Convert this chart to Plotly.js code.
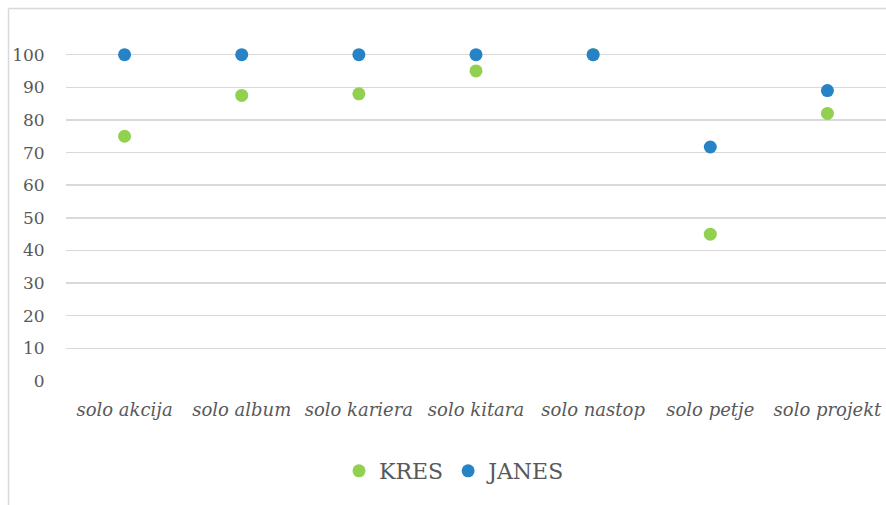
<!DOCTYPE html>
<html><head><meta charset="utf-8">
<script src="https://cdn.plot.ly/plotly-3.0.1.min.js"></script>
<style>html,body{margin:0;padding:0;background:#fff}#chart{width:886px;height:505px}</style>
</head><body><div id="chart"></div>
<script>
const categories = ["solo akcija","solo album","solo kariera","solo kitara","solo nastop","solo petje","solo projekt"];
const kres = [75, 87.5, 88, 95, 100, 45, 82];
const janes = [100, 100, 100, 100, 100, 71.7, 89];
const yTicks = [0,10,20,30,40,50,60,70,80,90,100];

const L = 66, R = 0, T = 22, B = 124, W = 886, H = 505;
const pw = W - L - R, ph = H - T - B;
const px = v => (v - L) / pw;
const py = v => (H - B - v) / ph;

const font = "'DejaVu Serif', 'Liberation Serif', serif";
const traces = [
  {name: "KRES", x: categories, y: kres, type: "scatter", mode: "markers",
   marker: {color: "#92D050", size: 13}, cliponaxis: false},
  {name: "JANES", x: categories, y: janes, type: "scatter", mode: "markers",
   marker: {color: "#2683C6", size: 13}, cliponaxis: false}
];
const frameLine = {color: "#D9D9D9", width: 1.5};
const layout = {
  width: W, height: H,
  margin: {l: L, r: R, t: T, b: B, pad: 0},
  paper_bgcolor: "#fff", plot_bgcolor: "#fff",
  font: {family: font, color: "#595959", size: 16},
  showlegend: true,
  legend: {orientation: "h", x: px(455), xanchor: "center", y: py(471), yanchor: "middle",
           font: {size: 22, family: font, color: "#595959"}, itemwidth: 30, tracegroupgap: 0},
  xaxis: {type: "category", range: [-0.5, 6.5], showgrid: false, zeroline: false,
          showline: false, ticks: "outside", ticklen: 12, tickcolor: "rgba(0,0,0,0)",
          tickfont: {size: 18, family: font, color: "#595959", style: "italic"}, fixedrange: true},
  yaxis: {range: [0, 110], tickvals: yTicks, ticktext: yTicks.map(String),
          showgrid: true, gridcolor: "#D9D9D9", gridwidth: 1.5, zeroline: false,
          showline: false, ticks: "outside", ticklen: 17, tickcolor: "rgba(0,0,0,0)",
          tickfont: {size: 17, family: font, color: "#595959"}, fixedrange: true},
  shapes: [
    {type: "line", xref: "paper", yref: "paper",
     x0: px(8.5), x1: px(886), y0: py(8.5), y1: py(8.5), line: frameLine, layer: "below"},
    {type: "line", xref: "paper", yref: "paper",
     x0: px(8.5), x1: px(8.5), y0: py(8.5), y1: py(505), line: frameLine, layer: "below"}
  ]
};
Plotly.newPlot("chart", traces, layout, {displayModeBar: false, staticPlot: true});
</script></body></html>
